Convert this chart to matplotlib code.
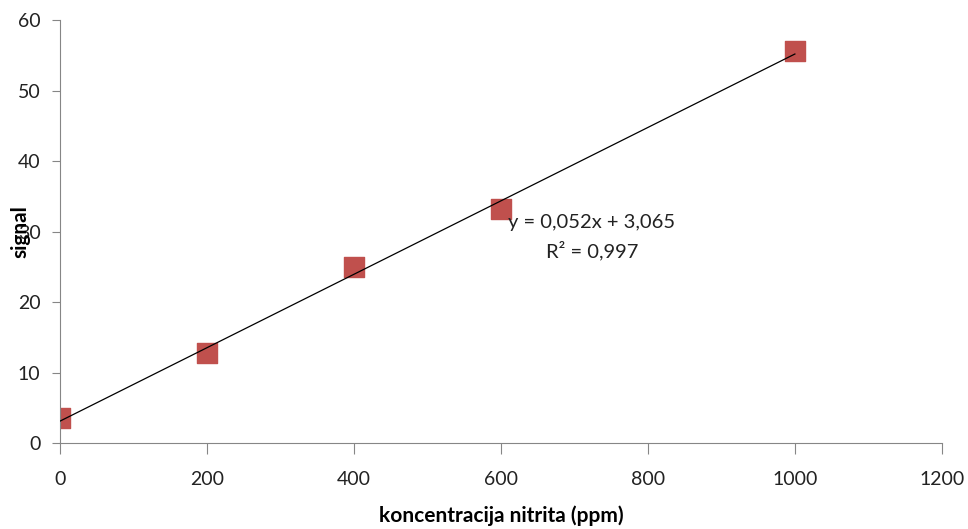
import numpy as np
import matplotlib.pyplot as plt

# concentration of nitrite (ppm) and measured signal
koncentracija = [0, 200, 400, 600, 1000]
signal = [3.5, 12.8, 25.0, 33.2, 55.6]
x_ticks = [0, 200, 400, 600, 800, 1000, 1200]
y_ticks = [0, 10, 20, 30, 40, 50, 60]
eq_text = "y = 0,052x + 3,065"
r2_text = "R² = 0,997"

plt.rcParams['font.family'] = ['Lato', 'DejaVu Sans']

fig = plt.figure(figsize=(9.68, 5.29), dpi=100)
ax = fig.add_axes([0.062, 0.1626, 0.911, 0.7994])

# linear trendline
k, n = np.polyfit(koncentracija, signal, 1)
xl = np.array([koncentracija[0], koncentracija[-1]])
ax.plot(xl, k * xl + n, color='black', lw=0.9, zorder=3)
ax.scatter(koncentracija, signal, marker='s', s=220, color='#C0504D', zorder=2)

ax.set_xlim(0, 1200)
ax.set_ylim(0, 60)
ax.set_xticks(x_ticks)
ax.set_yticks(y_ticks)
for s in ['top', 'right']:
    ax.spines[s].set_visible(False)
for s in ['left', 'bottom']:
    ax.spines[s].set_color('#868686')
ax.tick_params(axis='x', length=8, labelsize=14, pad=12, colors='#222222')
ax.tick_params(axis='y', length=6, labelsize=14, pad=8, colors='#222222')
ax.tick_params(axis='both', color='#868686')

ax.set_xlabel("koncentracija nitrita (ppm)", fontsize=15, fontweight='bold')
ax.xaxis.set_label_coords(0.5, -0.148)
ax.set_ylabel("signal", fontsize=15, fontweight='bold')
ax.yaxis.set_label_coords(-0.033, 0.5)

ax.text(0.603, 0.487, eq_text + "\n" + r2_text, transform=ax.transAxes,
        ha='center', va='center', fontsize=14.5, color='#222222', linespacing=1.55)

fig.savefig("out.png", dpi=100)
